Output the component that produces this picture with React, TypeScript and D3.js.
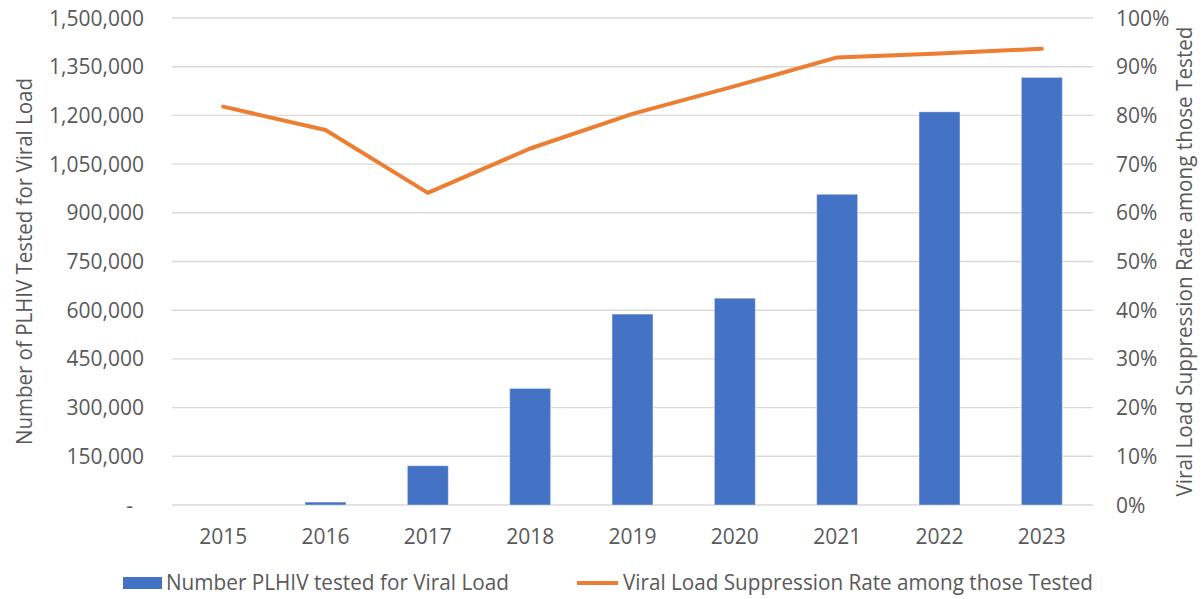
import React from "react";
import * as d3 from "d3";

const years = ["2015", "2016", "2017", "2018", "2019", "2020", "2021", "2022", "2023"];
const testedCounts = [0, 9000, 121000, 359000, 588000, 637000, 957000, 1211000, 1317000];
const suppressionRates = [0.818, 0.770, 0.641, 0.732, 0.803, 0.860, 0.919, 0.927, 0.937];
const leftTicks = [0, 150000, 300000, 450000, 600000, 750000, 900000, 1050000, 1200000, 1350000, 1500000];
const rightTicks = [0, 0.1, 0.2, 0.3, 0.4, 0.5, 0.6, 0.7, 0.8, 0.9, 1.0];
const barLabel = "Number PLHIV tested for Viral Load";
const lineLabel = "Viral Load Suppression Rate among those Tested";
const leftTitle = "Number of PLHIV Tested for Viral Load";
const rightTitle = "Viral Load Suppression Rate among those Tested";

const W = 1204;
const H = 599;
const plotLeft = 172;
const plotRight = 1093;
const plotTop = 18;
const plotBottom = 505;
const BLUE = "#4472C4";
const ORANGE = "#ED7D31";
const TEXT = "#595959";
const GRID = "#D9D9D9";
const FONT = "'Open Sans', 'Noto Sans', sans-serif";

export default function App() {
  const x = d3.scaleBand<string>().domain(years).range([plotLeft, plotRight]).paddingInner(0.6).paddingOuter(0.3);
  const yL = d3.scaleLinear().domain([0, 1500000]).range([plotBottom, plotTop]);
  const yR = d3.scaleLinear().domain([0, 1]).range([plotBottom, plotTop]);
  const fmt = d3.format(",");
  const pct = d3.format(".0%");
  const cx = (d: string) => (x(d) as number) + x.bandwidth() / 2;

  const line = d3
    .line<number>()
    .x((_, i) => cx(years[i]))
    .y((v) => yR(v));

  return (
    <svg
      width={W}
      height={H}
      style={{ position: "absolute", left: 0, top: 0, background: "#fff", fontFamily: FONT }}
    >
      <rect x={0} y={0} width={W} height={H} fill="#fff" />
      {leftTicks.map((t) => (
        <line key={"g" + t} x1={plotLeft} x2={plotRight} y1={yL(t)} y2={yL(t)} stroke={GRID} strokeWidth={1.4} />
      ))}
      {leftTicks.map((t) => (
        <text
          key={"l" + t}
          x={t === 0 ? 133 : 144}
          y={yL(t)}
          dy="0.36em"
          textAnchor="end"
          fontSize={21}
          fill={TEXT}
        >
          {t === 0 ? "-" : fmt(t)}
        </text>
      ))}
      {rightTicks.map((t) => (
        <text key={"r" + t} x={1116} y={yR(t)} dy="0.36em" textAnchor="start" fontSize={21} fill={TEXT}>
          {pct(t)}
        </text>
      ))}
      {years.map((yr, i) => (
        <rect
          key={"b" + yr}
          x={x(yr)}
          y={yL(testedCounts[i])}
          width={x.bandwidth()}
          height={plotBottom - yL(testedCounts[i])}
          fill={BLUE}
          stroke="#ffffff"
          strokeOpacity={0.4}
          strokeWidth={1}
        />
      ))}
      <path
        d={line(suppressionRates) || ""}
        fill="none"
        stroke={ORANGE}
        strokeWidth={4}
        strokeLinecap="round"
        strokeLinejoin="round"
      />
      {years.map((yr) => (
        <text key={"x" + yr} x={cx(yr)} y={544} textAnchor="middle" fontSize={21} fill={TEXT}>
          {yr}
        </text>
      ))}
      <text
        transform={`translate(32, ${(plotTop + plotBottom) / 2}) rotate(-90)`}
        textAnchor="middle"
        fontSize={22}
        fill={TEXT}
        textLength={367}
        lengthAdjust="spacingAndGlyphs"
      >
        {leftTitle}
      </text>
      <text
        transform={`translate(1192, ${(plotTop + plotBottom) / 2}) rotate(-90)`}
        textAnchor="middle"
        fontSize={21}
        fill={TEXT}
        textLength={470}
        lengthAdjust="spacingAndGlyphs"
      >
        {rightTitle}
      </text>
      <rect x={123} y={577} width={39} height={12} fill={BLUE} />
      <text x={166} y={590} fontSize={22} fill={TEXT} textLength={343} lengthAdjust="spacingAndGlyphs">
        {barLabel}
      </text>
      <line x1={577} x2={618} y1={583} y2={583} stroke={ORANGE} strokeWidth={4} />
      <text x={623} y={590} fontSize={22} fill={TEXT} textLength={470} lengthAdjust="spacingAndGlyphs">
        {lineLabel}
      </text>
    </svg>
  );
}
